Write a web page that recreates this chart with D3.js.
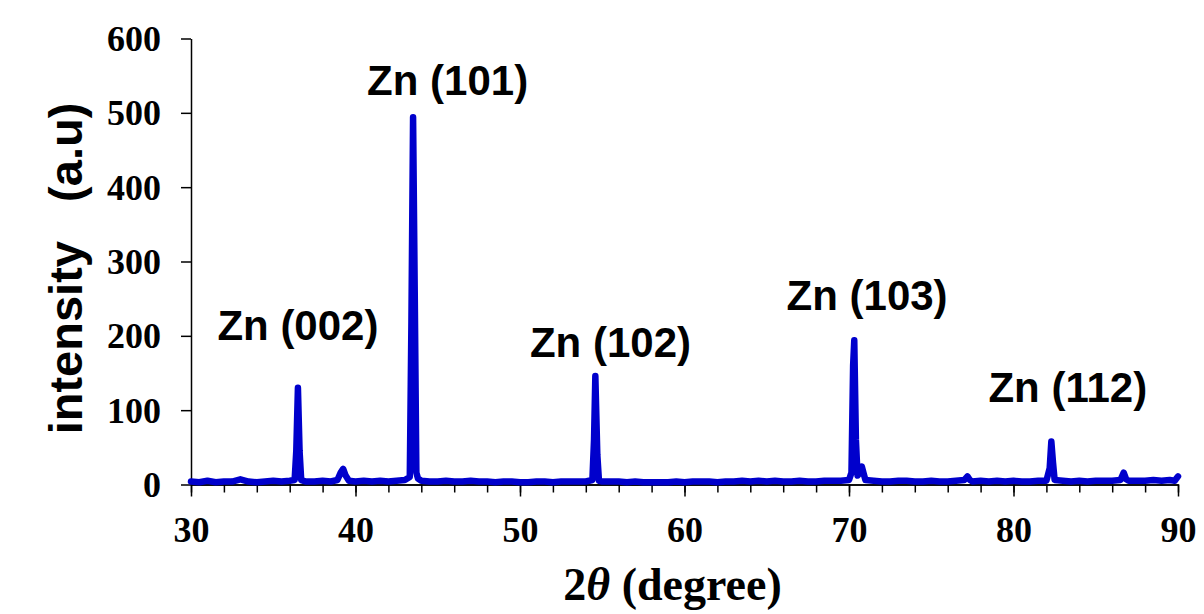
<!DOCTYPE html>
<html lang="en">
<head>
  <meta charset="UTF-8">
  <title>XRD Zn</title>
  <script src="https://cdn.jsdelivr.net/npm/d3@7"></script>
  <style>
    body { margin: 0; background: #fff; }
    .axis path, .axis line { stroke: #000; stroke-width: 1.5; }
    .axis text { font-family: "Liberation Serif", "Times New Roman", serif; font-weight: bold; font-size: 36px; fill: #000; }
    .peak-label { font-family: "Liberation Sans", Arial, sans-serif; font-weight: bold; font-size: 42px; }
  </style>
</head>
<body>
<script>
// 2theta (deg) and intensity (a.u.)
var twoTheta = [
  30.0, 30.5, 31.0, 31.5, 32.0, 32.5, 33.0, 33.5, 34.0, 34.5,
  35.0, 35.5, 36.0, 36.3, 36.4, 36.5, 36.6, 36.7, 37.0, 37.5,
  38.0, 38.5, 38.9, 39.1, 39.25, 39.4, 39.6, 40.0, 40.5, 41.0,
  41.5, 42.0, 42.5, 43.0, 43.3, 43.4, 43.5, 43.6, 43.7, 43.8,
  44.0, 44.5, 45.0, 45.5, 46.0, 46.5, 47.0, 47.5, 48.0, 48.5,
  49.0, 49.5, 50.0, 50.5, 51.0, 51.5, 52.0, 52.5, 53.0, 53.5,
  54.0, 54.4, 54.5, 54.58, 54.7, 54.8, 55.0, 55.5, 56.0, 56.5,
  57.0, 57.5, 58.0, 58.5, 59.0, 59.5, 60.0, 60.5, 61.0, 61.5,
  62.0, 62.5, 63.0, 63.5, 64.0, 64.5, 65.0, 65.5, 66.0, 66.5,
  67.0, 67.5, 68.0, 68.5, 69.0, 69.5, 70.0, 70.15, 70.25, 70.32,
  70.42, 70.52, 70.65, 70.78, 70.9, 71.0, 71.5, 72.0, 72.5, 73.0,
  73.5, 74.0, 74.5, 75.0, 75.5, 76.0, 76.5, 77.0, 77.2, 77.35,
  77.5, 78.0, 78.5, 79.0, 79.5, 80.0, 80.5, 81.0, 81.5, 82.0,
  82.2, 82.3, 82.4, 82.5, 83.0, 83.5, 84.0, 84.5, 85.0, 85.5,
  86.0, 86.5, 86.7, 86.85, 87.0, 87.5, 88.0, 88.5, 89.0, 89.5,
  89.8, 90.0
]
var intensity = [
  4, 3, 5, 3, 4, 4, 7, 4, 3, 4,
  5, 4, 5, 6, 45, 130, 45, 6, 4, 4,
  5, 4, 6, 16, 21, 12, 5, 4, 5, 4,
  5, 4, 5, 6, 10, 220, 494, 260, 16, 8,
  5, 4, 4, 5, 4, 4, 5, 4, 4, 3,
  4, 4, 3, 3, 4, 4, 3, 4, 4, 4,
  4, 6, 60, 146, 40, 5, 4, 4, 4, 3,
  4, 3, 3, 3, 3, 4, 3, 4, 4, 4,
  3, 4, 4, 5, 4, 5, 4, 5, 4, 4,
  5, 4, 4, 5, 5, 5, 6, 16, 160, 194,
  60, 12, 16, 24, 14, 6, 5, 4, 4, 5,
  5, 4, 4, 5, 4, 4, 5, 6, 11, 6,
  4, 5, 4, 5, 4, 5, 4, 4, 5, 5,
  22, 58, 30, 6, 5, 4, 5, 4, 5, 5,
  5, 6, 16, 7, 5, 5, 5, 6, 5, 6,
  5, 11
]

var peakLabels = ["Zn (002)", "Zn (101)", "Zn (102)", "Zn (103)", "Zn (112)"]
var labelX = [36.5, 45.6, 55.5, 71.1, 83.3]
var labelY = [194, 524, 172, 235, 111]

var yTicks = [0, 100, 200, 300, 400, 500, 600]
var xTicks = [30, 40, 50, 60, 70, 80, 90]
var xMinor = d3.range(30, 91, 2)

var W = 1204, H = 614
var margin = { top: 38.5, right: 26, bottom: 129.5, left: 191 }
var width = W - margin.left - margin.right
var height = H - margin.top - margin.bottom

var x = d3.scaleLinear().domain([30, 90]).range([0, width])
var y = d3.scaleLinear().domain([0, 600]).range([height, 0])

var svg = d3.select("body").append("svg")
  .attr("width", W)
  .attr("height", H)
  .append("g")
  .attr("transform", "translate(" + margin.left + "," + margin.top + ")")

// minor ticks on x
svg.append("g")
  .attr("class", "axis")
  .attr("transform", "translate(0," + height + ")")
  .call(d3.axisBottom(x).tickValues(xMinor).tickSize(8).tickSizeOuter(0).tickFormat(""))

svg.append("g")
  .attr("class", "axis")
  .attr("transform", "translate(0," + height + ")")
  .call(d3.axisBottom(x).tickValues(xTicks).tickSize(12).tickSizeOuter(0).tickPadding(20))

svg.append("g")
  .attr("class", "axis")
  .call(d3.axisLeft(y).tickValues(yTicks).tickSize(10).tickSizeOuter(0).tickPadding(20))
  .selectAll("text").attr("dy", "0.33em")

// pattern
var pts = twoTheta.map(function (t, i) { return [t, intensity[i]] })
var line = d3.line()
  .x(function (d) { return x(d[0]) })
  .y(function (d) { return y(d[1]) })

svg.append("path")
  .datum(pts)
  .attr("fill", "none")
  .attr("stroke", "#0000cc")
  .attr("stroke-width", 6.5)
  .attr("stroke-linejoin", "round")
  .attr("stroke-linecap", "round")
  .attr("d", line)

// peak labels
svg.selectAll(".peak-label")
  .data(peakLabels)
  .enter().append("text")
  .attr("class", "peak-label")
  .attr("text-anchor", "middle")
  .attr("x", function (d, i) { return x(labelX[i]) })
  .attr("y", function (d, i) { return y(labelY[i]) })
  .text(function (d) { return d })

// axis titles
var xt = svg.append("text")
  .attr("x", width / 2 - 12)
  .attr("y", height + 115)
  .attr("text-anchor", "middle")
  .attr("font-family", "Liberation Serif, Times New Roman, serif")
  .attr("font-weight", "bold")
  .attr("font-size", "46px")
xt.append("tspan").text("2")
xt.append("tspan").attr("font-style", "italic").text("\u03b8")
xt.append("tspan").text(" (degree)")

svg.append("text")
  .attr("transform", "translate(" + (-109) + "," + (height / 2 + 7) + ") rotate(-90)")
  .attr("text-anchor", "middle")
  .attr("font-family", "Liberation Sans, Arial, sans-serif")
  .attr("font-weight", "bold")
  .attr("font-size", "47px")
  .attr("xml:space", "preserve")
  .style("white-space", "pre")
  .text("intensity   (a.u)")
</script>
</body>
</html>
